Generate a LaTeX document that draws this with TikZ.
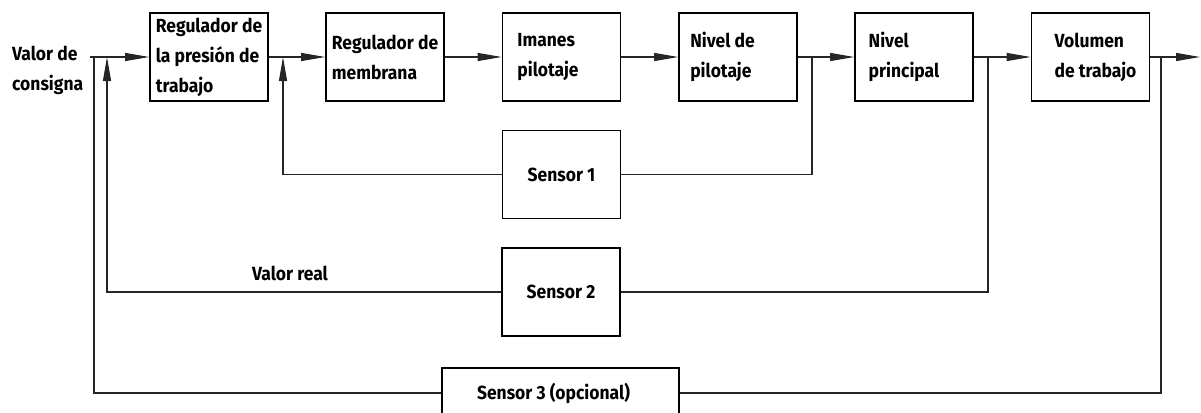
\documentclass[tikz,border=0pt]{standalone}
\usepackage{fontspec}
\setmainfont{Fira Sans}[FakeStretch=0.92]
\usetikzlibrary{arrows.meta}
\begin{document}
\begin{tikzpicture}[x=1pt,y=-1pt,
  font=\fontsize{19}{30}\selectfont\bfseries,
  blk/.style={draw=black, line width=1.6pt, minimum height=88pt, minimum width=118pt, inner sep=0pt, align=left},
  sens/.style={draw=black, line width=1.6pt, minimum height=88pt, minimum width=118pt, inner sep=0pt, align=center},
  conn/.style={line width=1.1pt, draw=black!85},
  arr/.style={conn, -{Triangle[length=24pt,width=8pt]}},
  lbl/.style={inner sep=0pt, align=left}]
\useasboundingbox (0,0) rectangle (1201,412);
\clip (0,0) rectangle (1201,412);
% blocks
\node[blk] (b1) at (209,57) {Regulador de\\la presión de\\trabajo};
\node[blk] (b2) at (385,57) {Regulador de\\membrana};
\node[blk] (b3) at (561.5,57) {Imanes\\pilotaje\hspace*{27pt}};
\node[blk] (b4) at (738,57) {Nivel de\hspace*{31pt}\\pilotaje};
\node[blk] (b5) at (914,57) {Nivel\\principal\hspace*{20pt}};
\node[blk] (b6) at (1090.5,57) {\hspace*{10pt}Volumen\\\hspace*{10pt}de trabajo};
% sensors
\node[sens] (s1) at (561.5,174.5) {Sensor 1};
\node[sens] (s2) at (561,292) {Sensor 2};
\node[sens, minimum width=237pt, minimum height=50pt] (s3) at (560.5,393) {Sensor 3 (opcional)\hspace*{14pt}};
% labels
\node[lbl, anchor=north west] (vc) at (12,46) {Valor de\\consigna};
\node[lbl, anchor=base west] (vr) at (252,280) {Valor real};
% junctions
\coordinate (in) at (90,57);
\coordinate (j0) at (94,57);
\coordinate (j1) at (107,57);
\coordinate (j2) at (283,57);
\coordinate (j3) at (812,57);
\coordinate (j4) at (988,57);
\coordinate (j5) at (1161,57);
\coordinate (out) at (1200,57);
% forward path
\draw[arr] (in) -- (b1.west);
\draw[arr] (b1.east) -- (b2.west);
\draw[arr] (b2.east) -- (b3.west);
\draw[arr] (b3.east) -- (b4.west);
\draw[arr] (b4.east) -- (b5.west);
\draw[arr] (b5.east) -- (b6.west);
\draw[arr] (b6.east) -- (out);
% feedback
\draw[conn] (j3) |- (s1.east);
\draw[arr] (s1.west) -| (j2);
\draw[conn] (j4) |- (s2.east);
\draw[arr] (s2.west) -| (j1);
\draw[conn] (j5) |- (s3.east);
\draw[conn] (j0) |- (s3.west);
\end{tikzpicture}
\end{document}
